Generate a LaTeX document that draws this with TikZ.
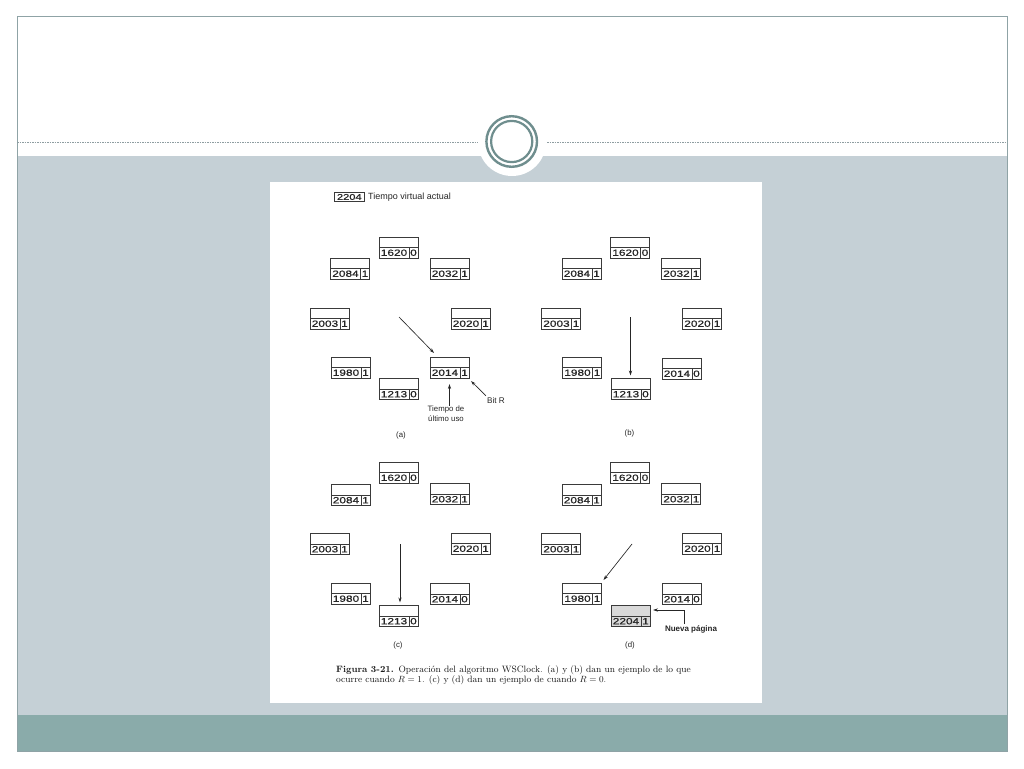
\documentclass[tikz,border=0pt]{standalone}
\usepackage{fontspec}
\setsansfont{Liberation Sans}
\newfontfamily\boxfont[FakeStretch=1.32,FakeBold=0.6]{Liberation Sans}
\usetikzlibrary{arrows.meta,calc}
\definecolor{bandgray}{HTML}{C5D0D6}
\definecolor{bandteal}{HTML}{8AABAA}
\definecolor{framec}{HTML}{8FA3A6}
\definecolor{ringc}{HTML}{6F8E8E}
\definecolor{dotc}{HTML}{8E9DA1}
\definecolor{inkc}{HTML}{3A3A3A}
\newcommand\pgent[5][white]{%
  \node[entrybox, fill=#1] (#2) at (#3) {};
  \draw[entryline] (#2.west) -- (#2.east);
  \draw[entryline] ($(#2.south west)+(30,0)$) -- ($(#2.west)+(30,0)$);
  \node[numtxt] (#2-n) at ($(#2.south west)+(15,-5.3)$) {#4};
  \node[numtxt] (#2-b) at ($(#2.south west)+(34.5,-5.3)$) {#5};
}
\begin{document}
\begin{tikzpicture}[x=1pt,y=-1pt,
  entrybox/.style={draw=inkc, line width=0.9pt, minimum width=39pt, minimum height=21pt, inner sep=0pt, outer sep=0pt},
  entryline/.style={draw=inkc, line width=0.75pt},
  numtxt/.style={font=\boxfont\fontsize{9}{9}\selectfont, text=black!85, inner sep=0pt},
  lbl/.style={font=\sffamily\fontsize{7.8}{10}\selectfont, inner sep=0pt, align=center, text=black!85},
  arr/.style={-{Stealth[length=5pt,width=3.2pt]}, line width=0.65pt, draw=black!85},
  captxt/.style={anchor=base west, inner sep=0pt, font=\fontsize{9.2}{10}\selectfont, text=black!90},
]
\useasboundingbox (0,0) rectangle (1024,768);
\fill[white] (0,0) rectangle (1024,768);
% slide frame
\fill[bandgray] (17,156) rectangle (1007,715);
\fill[bandteal] (17,715) rectangle (1007,751);
\draw[framec, line width=1pt] (17,17) rectangle (1007,751);
\draw[dotc, line width=1pt, dash pattern=on 1.5pt off 1pt] (17,142.5) -- (1007,142.5);
\fill[white] (512,142) circle[radius=34];
\draw[ringc, line width=2.4pt] (511.7,141.5) circle[radius=25.3];
\draw[ringc, line width=2.2pt] (511.7,141.5) circle[radius=20.6];
% figure sheet
\fill[white] (270,182) rectangle (762,703);
% current virtual time
\node[draw=inkc, line width=0.75pt, minimum width=30pt, minimum height=8.5pt, inner sep=0pt, text=black!85, font=\boxfont\fontsize{8.4}{8}\selectfont] (vt) at (349.3,197) {2204};
\node[lbl, anchor=west, font=\sffamily\fontsize{9}{9}\selectfont] (vtl) at (368,197) {Tiempo virtual actual};
% panel (a)
\pgent{a1620}{398.5,247.5}{1620}{0}
\pgent{a2084}{350,268.5}{2084}{1}
\pgent{a2032}{449.5,268.5}{2032}{1}
\pgent{a2003}{329.5,318.5}{2003}{1}
\pgent{a2020}{470.5,318.5}{2020}{1}
\pgent{a1980}{350.5,367.5}{1980}{1}
\pgent{a2014}{449.5,367.5}{2014}{1}
\pgent{a1213}{398.5,389}{1213}{0}
\coordinate (ha) at (399,317);
\draw[arr] (ha) -- ($(a2014.north west)+(4,-4)$);
\node[lbl] (tdu) at (446,414) {Tiempo de\\último uso};
\draw[arr, shorten >=6pt] (tdu.north -| a2014) -- (a2014.south);
\node[lbl, font=\sffamily\fontsize{8.2}{9}\selectfont] (bitr) at (496,401) {Bit R};
\draw[arr] ($(bitr.north west)+(-1,-2)$) -- ($(a2014.south east)+(2,3)$);
\node[lbl] (la) at (401,435) {(a)};
% panel (b)
\pgent{b1620}{630,247.5}{1620}{0}
\pgent{b2084}{581.5,268.5}{2084}{1}
\pgent{b2032}{681,268.5}{2032}{1}
\pgent{b2003}{561,318.5}{2003}{1}
\pgent{b2020}{702,318.5}{2020}{1}
\pgent{b1980}{582,367.5}{1980}{1}
\pgent{b2014}{681.5,368.5}{2014}{0}
\pgent{b1213}{630.5,389}{1213}{0}
\coordinate (hb) at (630.5,317);
\draw[arr, shorten >=3pt] (hb) -- (b1213.north);
\node[lbl] (lb) at (629.5,433) {(b)};
% panel (c)
\pgent{c1620}{398.5,472.5}{1620}{0}
\pgent{c2084}{350.5,495}{2084}{1}
\pgent{c2032}{449.5,494}{2032}{1}
\pgent{c2003}{329.5,544}{2003}{1}
\pgent{c2020}{470.5,543.5}{2020}{1}
\pgent{c1980}{350.5,593.5}{1980}{1}
\pgent{c2014}{449.5,594}{2014}{0}
\pgent{c1213}{398.5,616}{1213}{0}
\coordinate (hc) at (400,544);
\draw[arr, shorten >=3pt] (hc) -- (hc |- c1213.north);
\node[lbl] (lc) at (398,645) {(c)};
% panel (d)
\pgent{d1620}{630,472.5}{1620}{0}
\pgent{d2084}{581.5,495}{2084}{1}
\pgent{d2032}{681,494}{2032}{1}
\pgent{d2003}{561,544}{2003}{1}
\pgent{d2020}{702,543.5}{2020}{1}
\pgent{d1980}{582,593.5}{1980}{1}
\pgent{d2014}{681.5,594}{2014}{0}
\pgent[gray!30]{d2204}{630.5,616}{2204}{1}
\coordinate (hd) at (632,544);
\draw[arr] (hd) -- ($(d1980.north east)+(2,-3)$);
\node[lbl, font=\sffamily\bfseries\fontsize{8}{9}\selectfont] (nueva) at (691,629) {Nueva página};
\draw[arr] ($(nueva.north)+(-7,-1)$) |- ($(d2204.east)+(3,-6)$);
\node[lbl] (ld) at (630,645) {(d)};
% caption
\node[captxt] (cap1) at (336,672.2) {\textbf{Figura 3-21.}\enspace Operación del algoritmo WSClock. (a) y (b) dan un ejemplo de lo que};
\node[captxt] (cap2) at (336,682.2) {ocurre cuando $R = 1$. (c) y (d) dan un ejemplo de cuando $R = 0$.};
\end{tikzpicture}
\end{document}
